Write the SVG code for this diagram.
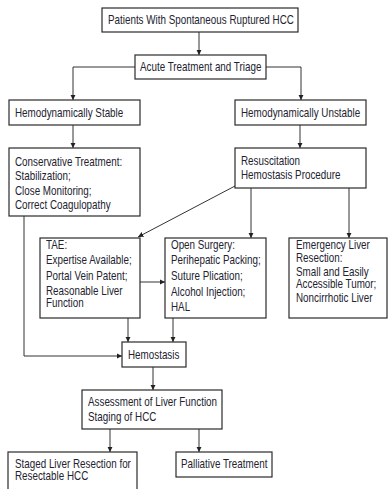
<svg xmlns="http://www.w3.org/2000/svg" width="389" height="489" viewBox="0 0 389 489">
<style>
  rect.box { fill: #ffffff; stroke: #2b2b2b; stroke-width: 1.2; }
  text { font-family: "Liberation Sans", Arial, sans-serif; font-size: 12px; fill: #23232f; transform-box: fill-box; transform-origin: 0 0; transform: scaleX(0.82); }
  .conn path, .conn line { fill: none; stroke: #333333; stroke-width: 1; }
</style>
<defs>
  <marker id="arr" markerUnits="userSpaceOnUse" markerWidth="6" markerHeight="6" refX="5.5" refY="3" orient="auto">
    <path d="M0,0.3 L5.5,3 L0,5.7 z" fill="#222222"/>
  </marker>
</defs>
<rect width="389" height="489" fill="#ffffff"/>

<g class="conn">
  <line x1="199" y1="32" x2="199" y2="55" marker-end="url(#arr)"/>
  <path d="M135,67 H73 V100" marker-end="url(#arr)"/>
  <path d="M266,67 H301 V100" marker-end="url(#arr)"/>
  <line x1="73" y1="125" x2="73" y2="148" marker-end="url(#arr)"/>
  <line x1="300" y1="125" x2="300" y2="148" marker-end="url(#arr)"/>
  <path d="M24,216 V356 H122" marker-end="url(#arr)"/>
  <line x1="235" y1="186" x2="138" y2="237" marker-end="url(#arr)"/>
  <line x1="251" y1="188" x2="251" y2="238" marker-end="url(#arr)"/>
  <line x1="349" y1="188" x2="349" y2="238" marker-end="url(#arr)"/>
  <line x1="140" y1="282" x2="165" y2="282" marker-end="url(#arr)"/>
  <line x1="128" y1="318" x2="128" y2="342" marker-end="url(#arr)"/>
  <line x1="173" y1="318" x2="173" y2="342" marker-end="url(#arr)"/>
  <line x1="153" y1="367" x2="153" y2="390" marker-end="url(#arr)"/>
  <line x1="110" y1="429" x2="110" y2="452" marker-end="url(#arr)"/>
  <line x1="199" y1="429" x2="199" y2="452" marker-end="url(#arr)"/>
</g>

<g id="patients">
  <rect class="box" x="102" y="8" width="196" height="24"/>
  <text x="108" y="24">Patients With Spontaneous Ruptured HCC</text>
</g>
<g id="acute">
  <rect class="box" x="135" y="55" width="131" height="24"/>
  <text x="140" y="71">Acute Treatment and Triage</text>
</g>
<g id="stable">
  <rect class="box" x="9" y="100" width="131" height="25"/>
  <text x="15" y="117">Hemodynamically Stable</text>
</g>
<g id="unstable">
  <rect class="box" x="235" y="100" width="131" height="25"/>
  <text x="241" y="117">Hemodynamically Unstable</text>
</g>
<g id="conservative">
  <rect class="box" x="9" y="148" width="131" height="68"/>
  <text x="15" y="166">Conservative Treatment:</text>
  <text x="15" y="180.5">Stabilization;</text>
  <text x="15" y="195">Close Monitoring;</text>
  <text x="15" y="209.5">Correct Coagulopathy</text>
</g>
<g id="resuscitation">
  <rect class="box" x="235" y="148" width="131" height="40"/>
  <text x="241" y="165">Resuscitation</text>
  <text x="241" y="179.5">Hemostasis Procedure</text>
</g>
<g id="tae">
  <rect class="box" x="40" y="238" width="100" height="80"/>
  <text x="46" y="249">TAE:</text>
  <text x="46" y="264.5">Expertise Available;</text>
  <text x="46" y="280">Portal Vein Patent;</text>
  <text x="46" y="295.5">Reasonable Liver</text>
  <text x="46" y="307.5">Function</text>
</g>
<g id="open-surgery">
  <rect class="box" x="165" y="238" width="101" height="80"/>
  <text x="171" y="249">Open Surgery:</text>
  <text x="171" y="264.5">Perihepatic Packing;</text>
  <text x="171" y="280">Suture Plication;</text>
  <text x="171" y="296">Alcohol Injection;</text>
  <text x="171" y="311.5">HAL</text>
</g>
<g id="emergency">
  <rect class="box" x="289" y="238" width="98" height="80"/>
  <text x="296" y="249">Emergency Liver</text>
  <text x="296" y="262">Resection:</text>
  <text x="296" y="276">Small and Easily</text>
  <text x="296" y="288">Accessible Tumor;</text>
  <text x="296" y="302">Noncirrhotic Liver</text>
</g>
<g id="hemostasis">
  <rect class="box" x="122" y="342" width="64" height="25"/>
  <text x="128" y="359">Hemostasis</text>
</g>
<g id="assessment">
  <rect class="box" x="82" y="390" width="140" height="39"/>
  <text x="88" y="406">Assessment of Liver Function</text>
  <text x="88" y="421">Staging of HCC</text>
</g>
<g id="staged">
  <rect class="box" x="8" y="452" width="129" height="45"/>
  <text x="15" y="468">Staged Liver Resection for</text>
  <text x="15" y="480">Resectable HCC</text>
</g>
<g id="palliative">
  <rect class="box" x="176" y="452" width="96" height="25"/>
  <text x="181" y="468">Palliative Treatment</text>
</g>
</svg>
